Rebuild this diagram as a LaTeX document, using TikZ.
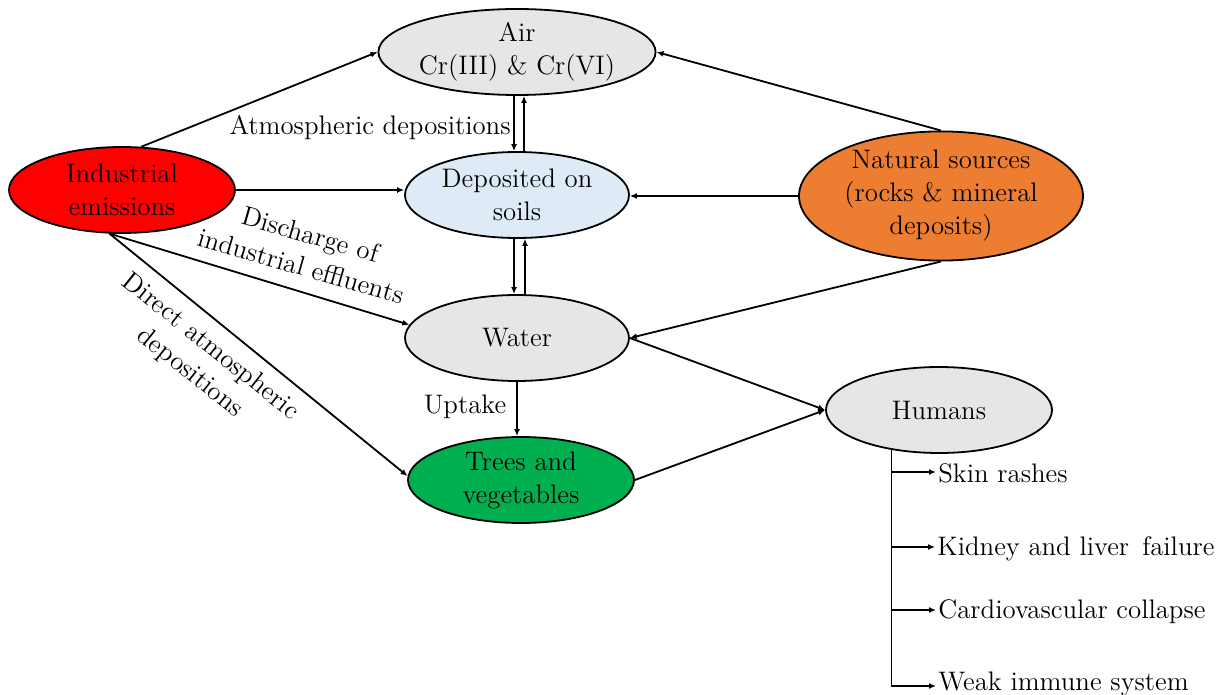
\documentclass[tikz,border=0pt]{standalone}
\usetikzlibrary{arrows.meta,shapes.geometric}
\definecolor{cgray}{HTML}{E7E6E6}
\definecolor{cred}{HTML}{FF0000}
\definecolor{cblue}{HTML}{DEEBF7}
\definecolor{corange}{HTML}{ED7D31}
\definecolor{cgreen}{HTML}{00B050}
\tikzset{
  ell/.style={ellipse, draw=black, line width=0.9pt, inner sep=0pt,
    minimum width=112pt, minimum height=43pt, align=center,
    font=\fontsize{13.4}{16.5}\selectfont},
  lbl/.style={inner sep=0pt, align=center, font=\fontsize{13.4}{16.5}\selectfont},
  item/.style={inner xsep=1pt, inner ysep=0pt, anchor=base west, font=\fontsize{13.4}{16.5}\selectfont},
  arr/.style={-{Latex[length=3.5pt,width=3pt]}, line width=0.9pt},
}
\begin{document}
\begin{tikzpicture}[x=0.5pt,y=-0.5pt]
\useasboundingbox (0,0) rectangle (1232,695);
% nodes
\node[ell, fill=cgray] (air) at (517,52) {Air\\Cr(III) \& Cr(VI)};
\node[ell, fill=cblue] (dep) at (517,195) {Deposited on\\soils};
\node[ell, fill=cred, minimum width=113pt] (ind) at (122,190) {Industrial\\emissions};
\node[ell, fill=cgray] (water) at (517,338) {Water};
\node[ell, fill=cgreen, minimum width=113pt] (trees) at (521,480) {Trees and\\vegetables};
\node[ell, fill=corange, minimum width=142pt, minimum height=55.5pt] (nat) at (941,196) {Natural sources\\(rocks \& mineral\\deposits)};
\node[ell, fill=cgray, minimum width=113pt] (hum) at (939,410) {Humans};
% labels
\node[lbl, anchor=base east] (latm) at (511,135) {Atmospheric depositions};
\node[lbl, rotate=-16] (ldis) at (306,250) {Discharge of\\industrial effluents};
\node[lbl, rotate=-38.5] (ldir) at (200,360) {Direct atmospheric\\depositions};
\node[lbl] (lup) at (465,407) {Uptake};
% effects
\node[item] (skin) at (936,482) {Skin rashes};
\node[item] (kid) at (935,555) {Kidney and liver\ \,failure};
\node[item] (card) at (936,618) {Cardiovascular collapse};
\node[item] (weak) at (936,690) {Weak immune system};
% connectors
\draw[arr] (ind.66) -- (air.west);
\draw[arr] (ind.east) -- (ind.east -| dep.west);
\draw[arr] (ind.254) -- (water.173);
\draw[arr] (ind.254) -- (trees.178);
\draw[arr] ([xshift=-1.5pt]air.south) -- ([xshift=-1.5pt]dep.north);
\draw[arr] ([xshift=3.5pt]dep.north) -- ([xshift=3.5pt]air.south);
\draw[arr] ([xshift=-1.5pt]dep.south) -- ([xshift=-1.5pt]water.north);
\draw[arr] ([xshift=4pt]water.north) -- ([xshift=4pt]dep.south);
\draw[arr] (nat.north) -- (air.east);
\draw[arr] (nat.west) -- (nat.west -| dep.east);
\draw[arr] (nat.south) -- (water.east);
\draw[arr] (water.east) -- (hum.west);
\draw[arr] (trees.east) -- (hum.west);
\draw[arr] (water.south) -- (water.south |- trees.north);
\draw[arr] (hum.220) |- ([yshift=5pt]skin.base west);
\draw[arr] (hum.220) |- ([yshift=4pt]kid.base west);
\draw[arr] (hum.220) |- ([yshift=4pt]card.base west);
\draw[arr] (hum.220) |- ([yshift=2pt]weak.base west);
\end{tikzpicture}
\end{document}
